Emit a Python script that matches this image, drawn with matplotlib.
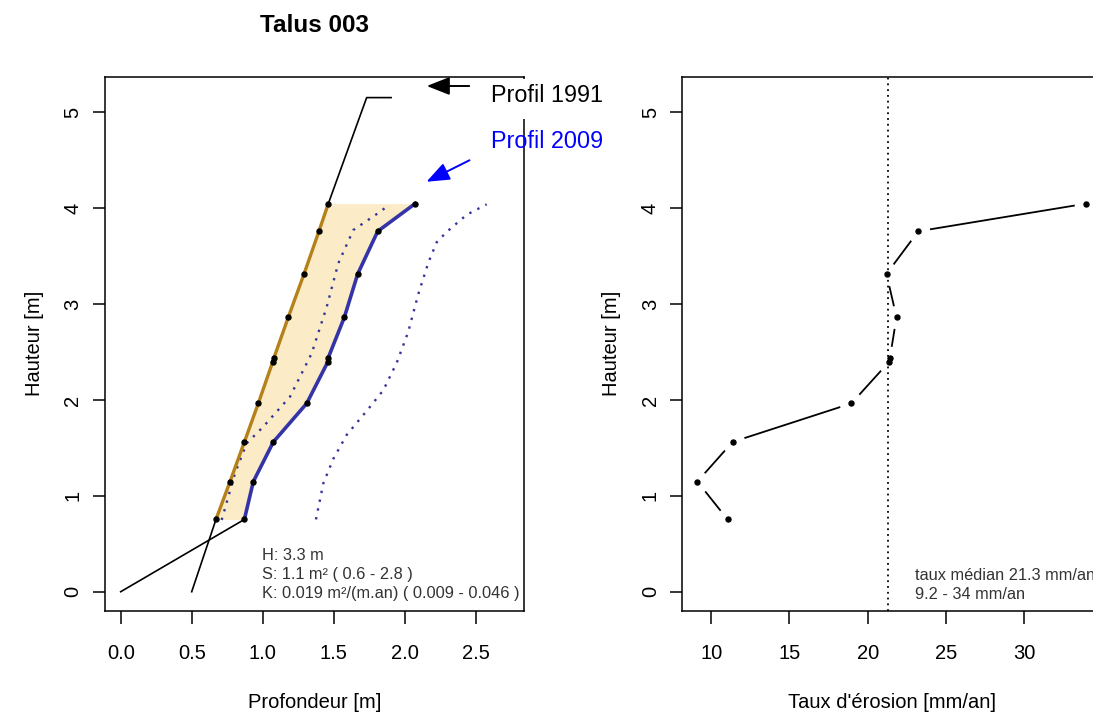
import matplotlib
matplotlib.use("Agg")
import matplotlib.pyplot as plt
from matplotlib.patches import Rectangle, FancyArrowPatch

plt.rcParams['font.family'] = ['Liberation Sans', 'DejaVu Sans']

# ---------------- data ----------------
heights = [0.754, 1.149, 1.562, 1.964, 2.395, 2.442, 2.862, 3.314, 3.759, 4.047]
depth_1991 = [0.671, 0.770, 0.871, 0.969, 1.070, 1.080, 1.180, 1.291, 1.396, 1.462]
depth_2009 = [0.871, 0.934, 1.075, 1.310, 1.458, 1.462, 1.575, 1.669, 1.810, 2.073]

# full 1991 profile (black thin line)
prof1991_x = [0.50] + depth_1991 + [1.732, 1.904]
prof1991_y = [0.00] + heights + [5.153, 5.153]
# full 2009 profile lower part (black thin line)
prof2009_x = [0.00] + depth_2009
prof2009_y = [0.00] + heights

# confidence curves (dotted)
ci_low_x = [0.711, 0.805, 0.887, 1.004, 1.192, 1.345, 1.451, 1.532, 1.638, 1.826, 1.873]
ci_low_y = [0.748, 1.235, 1.547, 1.721, 2.033, 2.486, 2.972, 3.424, 3.772, 3.962, 4.015]
ci_high_x = [1.375, 1.427, 1.497, 1.591, 1.732, 1.849, 1.944, 2.025, 2.096, 2.166, 2.225, 2.296, 2.437, 2.577]
ci_high_y = [0.754, 1.131, 1.384, 1.635, 1.885, 2.101, 2.388, 2.711, 3.106, 3.430, 3.644, 3.753, 3.932, 4.040]

# erosion rates (mm/an)
rates = [11.05, 9.12, 11.37, 18.96, 21.35, 21.42, 21.84, 21.20, 23.23, 33.94]
median_rate = 21.3

left_xticks = [0.0, 0.5, 1.0, 1.5, 2.0, 2.5]
left_xticklabels = ["0.0", "0.5", "1.0", "1.5", "2.0", "2.5"]
yticks = [0, 1, 2, 3, 4, 5]
right_xticks = [10, 15, 20, 25, 30, 35]

info_text = "H: 3.3 m\nS: 1.1 m\u00b2 ( 0.6 - 2.8 )\nK: 0.019 m\u00b2/(m.an) ( 0.009 - 0.046 )"
rate_text = "taux m\u00e9dian 21.3 mm/an\n9.2 - 34 mm/an"

# ---------------- figure ----------------
W, H = 1093, 713
fig = plt.figure(figsize=(W / 100, H / 100), dpi=100)

def fx(px):
    return px / W

def fy(py):
    return 1 - py / H

ax1 = fig.add_axes([fx(104.5), fy(611), (524 - 104.5) / W, (611 - 76.7) / H])
ax2 = fig.add_axes([fx(682), fy(611), (1101.5 - 682) / W, (611 - 76.7) / H])

FS = 14.5
for ax in (ax1, ax2):
    for s in ax.spines.values():
        s.set_linewidth(1.1)
    ax.tick_params(axis='both', which='major', length=9, width=1.1, labelsize=FS)
    ax.tick_params(axis='x', pad=15)
    ax.tick_params(axis='y', pad=7, labelrotation=90)
    ax.set_yticks(yticks)
    ax.set_ylim(-0.201, 5.371)
    for lab in ax.get_yticklabels():
        lab.set_va('center')
    ax.set_ylabel("Hauteur [m]", fontsize=FS, labelpad=14)

# ----- left panel -----
ax1.set_xticks(left_xticks)
ax1.set_xticklabels(left_xticklabels)
ax1.set_xlim(-0.114, 2.84)
ax1.set_xlabel("Profondeur [m]", fontsize=FS, labelpad=21)

ax1.fill_betweenx(heights, depth_1991, depth_2009, color='#FBEBC6', lw=0, zorder=1)
ax1.plot(ci_low_x, ci_low_y, color='#34349a', lw=1.7, ls=(0, (1, 2.8)), zorder=2)
ax1.plot(ci_high_x, ci_high_y, color='#34349a', lw=1.7, ls=(0, (1, 2.8)), zorder=2)
ax1.plot(prof1991_x, prof1991_y, color='black', lw=1.2, zorder=3)
ax1.plot(prof2009_x, prof2009_y, color='black', lw=1.2, zorder=3)
ax1.plot(depth_1991, heights, color='#B5811A', lw=2.4, zorder=4)
ax1.plot(depth_2009, heights, color='#3434A8', lw=2.6, zorder=4)
ax1.plot(depth_1991, heights, 'o', color='black', ms=3.6, zorder=5)
ax1.plot(depth_2009, heights, 'o', color='black', ms=3.6, zorder=5)

fig.text(fx(262), fy(548), info_text, fontsize=11.8,
         color='#333333', va='top', ha='left', linespacing=1.33)

# ----- right panel -----
ax2.set_xticks(right_xticks)
ax2.set_xlim(8.14, 34.93)
ax2.set_xlabel("Taux d'\u00e9rosion [mm/an]", fontsize=FS, labelpad=21)
ax2.plot(rates, heights, color='black', lw=1.3, zorder=2)
ax2.plot(rates, heights, 'o', color='white', ms=17, mec='none', zorder=3)
ax2.axvline(median_rate, color='black', lw=1.3, ls=(0, (1, 2.2)), zorder=4)
ax2.plot(rates, heights, 'o', color='black', ms=3.6, zorder=5)
fig.text(fx(915), fy(568), rate_text, fontsize=11.8,
         color='#333333', va='top', ha='left', linespacing=1.33)

# ----- title & annotations -----
fig.text(fx(314), fy(26), "Talus 003", fontsize=17.5, fontweight='bold',
         ha='center', va='center')

fig.patches.append(Rectangle((fx(484), fy(119)), fx(130), (119 - 79) / H,
                             transform=fig.transFigure, facecolor='white',
                             edgecolor='none', zorder=5))
fig.text(fx(491), fy(96), "Profil 1991", fontsize=16.8, color='black',
         ha='left', va='center', zorder=6)
fig.text(fx(491), fy(142), "Profil 2009", fontsize=16.8, color='#0000FF',
         ha='left', va='center', zorder=6)

a1 = FancyArrowPatch((fx(472), fy(86)), (fx(424), fy(86)), transform=fig.transFigure,
                     arrowstyle='-|>,head_length=14,head_width=5.5', color='black',
                     lw=1.4, mutation_scale=1, zorder=6)
a2 = FancyArrowPatch((fx(472), fy(159)), (fx(424), fy(183)), transform=fig.transFigure,
                     arrowstyle='-|>,head_length=14,head_width=5.5', color='#0000FF',
                     lw=1.4, mutation_scale=1, zorder=6)
fig.patches.extend([a1, a2])

fig.savefig("out.png", dpi=100)
